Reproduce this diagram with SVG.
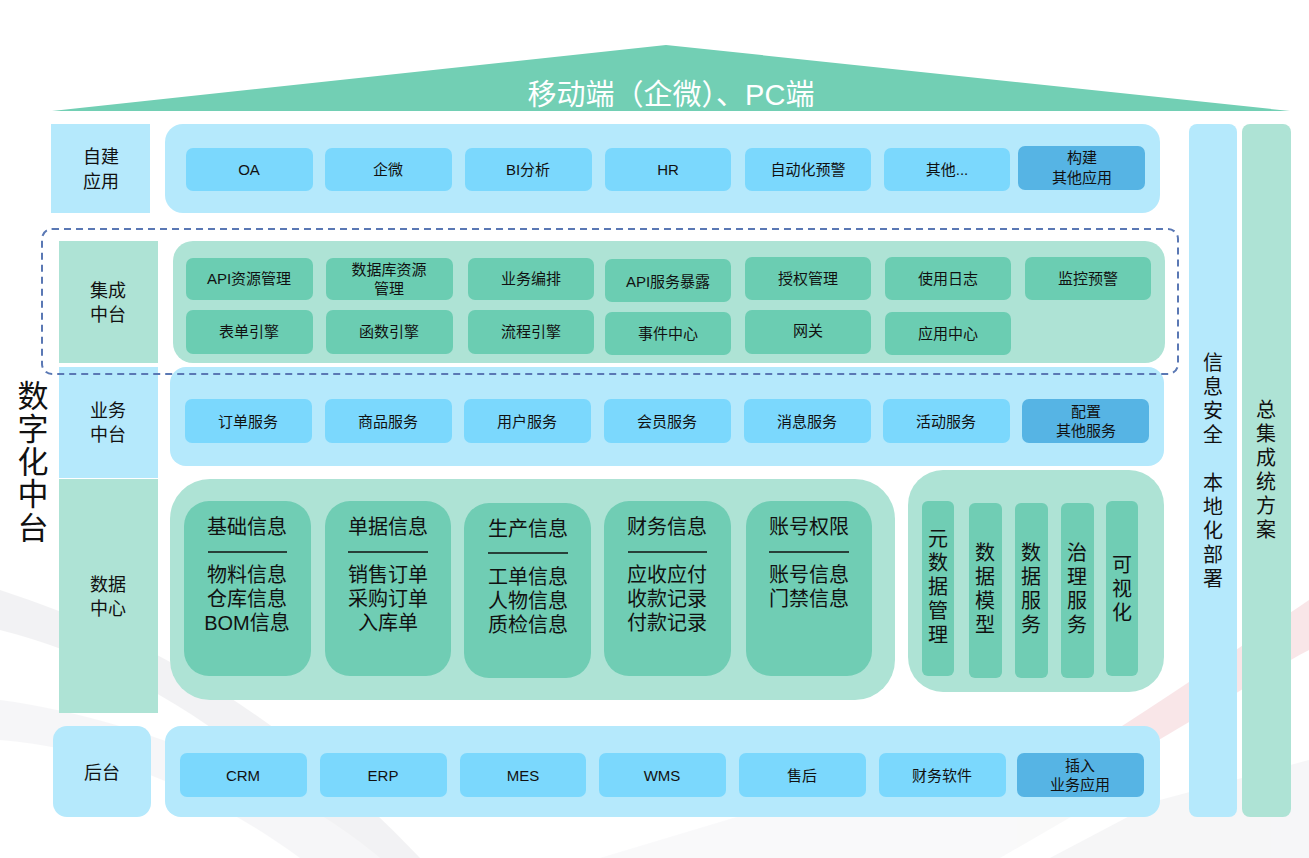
<svg xmlns="http://www.w3.org/2000/svg" width="1309" height="858" viewBox="0 0 1309 858">
<style>
text{font-family:"Liberation Sans","Noto Sans CJK SC",sans-serif;fill:#111;text-anchor:middle}
.lb{fill:#B5E9FC}
.lg{fill:#AEE3D5}
.it{fill:#7BD8FD}
.dk{fill:#56B4E4}
.tg{fill:#6BCDB2}
.cd{fill:#70CDB4}
.s15{font-size:15px}
.s18{font-size:18px}
.s20{font-size:20px}
.big{font-size:31px}
</style>
<rect width="1309" height="858" fill="#fff"/>
<g id="background" opacity="0.35">
<path d="M0 590 C120 630 260 690 420 858 L360 858 C240 730 120 660 0 630 Z" fill="#dcdce0"/>
<path d="M0 700 C150 720 300 790 380 858 L300 858 C220 800 120 750 0 740 Z" fill="#e8e8ec"/>
<path d="M1309 600 C1250 640 1180 690 1100 740 L1150 745 C1220 705 1270 670 1309 650 Z" fill="#f0b8bf"/>
<path d="M1050 858 L1160 800 L1309 760 L1309 858 Z" fill="#e6e6ea"/>
<path d="M600 858 L760 810 L1100 800 L1000 858 Z" fill="#eeeef0"/>
</g>
<g id="roof">
<polygon points="52,111 666,45 1290,111" fill="#72CFB4"/>
<text x="671" y="105" style="font-size:29px;fill:#fff">移动端（企微）、PC端</text>
</g>
<g id="side-title">
<text class="big" x="33" y="407">数</text>
<text class="big" x="33" y="440">字</text>
<text class="big" x="33" y="473">化</text>
<text class="big" x="33" y="505">中</text>
<text class="big" x="33" y="539">台</text>
</g>
<g id="row-app">
<rect class="lb" x="51" y="124" width="99" height="89"/>
<text class="s18" x="101" y="163">自建</text>
<text class="s18" x="101" y="188">应用</text>
<rect class="lb" x="165" y="124" width="995" height="89" rx="18"/>
<rect class="it" x="186" y="148" width="127" height="43" rx="7"/><text class="s15" x="249" y="175">OA</text>
<rect class="it" x="325" y="148" width="127" height="43" rx="7"/><text class="s15" x="388" y="175">企微</text>
<rect class="it" x="465" y="148" width="127" height="43" rx="7"/><text class="s15" x="528" y="175">BI分析</text>
<rect class="it" x="605" y="148" width="126" height="43" rx="7"/><text class="s15" x="668" y="175">HR</text>
<rect class="it" x="745" y="148" width="126" height="43" rx="7"/><text class="s15" x="808" y="175">自动化预警</text>
<rect class="it" x="884" y="148" width="126" height="43" rx="7"/><text class="s15" x="947" y="175">其他...</text>
<rect class="dk" x="1018" y="146" width="127" height="44" rx="7"/><text class="s15" x="1082" y="163">构建</text><text class="s15" x="1082" y="183">其他应用</text>
</g>
<g id="row-integration">
<rect class="lg" x="59" y="241" width="99" height="122"/>
<text class="s18" x="108" y="297">集成</text>
<text class="s18" x="108" y="321">中台</text>
<rect class="lg" x="173" y="241" width="992" height="122" rx="20"/>
<rect class="tg" x="186" y="258" width="127" height="42" rx="7"/><text class="s15" x="249" y="284">API资源管理</text>
<rect class="tg" x="326" y="258" width="127" height="42" rx="7"/><text class="s15" x="389" y="275">数据库资源</text><text class="s15" x="389" y="294">管理</text>
<rect class="tg" x="468" y="258" width="126" height="42" rx="7"/><text class="s15" x="531" y="284">业务编排</text>
<rect class="tg" x="605" y="259" width="126" height="43" rx="7"/><text class="s15" x="668" y="287">API服务暴露</text>
<rect class="tg" x="745" y="257" width="126" height="43" rx="7"/><text class="s15" x="808" y="284">授权管理</text>
<rect class="tg" x="885" y="257" width="126" height="43" rx="7"/><text class="s15" x="948" y="284">使用日志</text>
<rect class="tg" x="1025" y="257" width="126" height="43" rx="7"/><text class="s15" x="1088" y="284">监控预警</text>
<rect class="tg" x="186" y="310" width="127" height="44" rx="7"/><text class="s15" x="249" y="337">表单引擎</text>
<rect class="tg" x="326" y="310" width="127" height="44" rx="7"/><text class="s15" x="389" y="337">函数引擎</text>
<rect class="tg" x="468" y="310" width="126" height="44" rx="7"/><text class="s15" x="531" y="337">流程引擎</text>
<rect class="tg" x="605" y="312" width="126" height="43" rx="7"/><text class="s15" x="668" y="339">事件中心</text>
<rect class="tg" x="745" y="310" width="126" height="44" rx="7"/><text class="s15" x="808" y="336">网关</text>
<rect class="tg" x="885" y="312" width="126" height="43" rx="7"/><text class="s15" x="948" y="339">应用中心</text>
</g>
<g id="row-business">
<rect class="lb" x="59" y="367" width="99" height="111"/>
<text class="s18" x="108" y="417">业务</text>
<text class="s18" x="108" y="441">中台</text>
<rect class="lb" x="170" y="367" width="994" height="99" rx="16"/>
<rect class="it" x="185" y="399" width="127" height="44" rx="7"/><text class="s15" x="248" y="427">订单服务</text>
<rect class="it" x="325" y="399" width="127" height="44" rx="7"/><text class="s15" x="388" y="427">商品服务</text>
<rect class="it" x="464" y="399" width="127" height="44" rx="7"/><text class="s15" x="527" y="427">用户服务</text>
<rect class="it" x="604" y="399" width="127" height="44" rx="7"/><text class="s15" x="667" y="427">会员服务</text>
<rect class="it" x="744" y="399" width="127" height="44" rx="7"/><text class="s15" x="807" y="427">消息服务</text>
<rect class="it" x="883" y="399" width="127" height="44" rx="7"/><text class="s15" x="946" y="427">活动服务</text>
<rect class="dk" x="1022" y="399" width="127" height="44" rx="7"/><text class="s15" x="1086" y="417">配置</text><text class="s15" x="1086" y="436">其他服务</text>
</g>
<g id="dashed-frame">
<rect x="42" y="229" width="1136" height="145" rx="10" fill="none" stroke="#5A78B4" stroke-width="2" stroke-dasharray="7,5"/>
</g>
<g id="row-data">
<rect class="lg" x="59" y="479" width="99" height="234"/>
<text class="s18" x="108" y="591">数据</text>
<text class="s18" x="108" y="615">中心</text>
<rect class="lg" x="170" y="479" width="725" height="221" rx="40"/>
<g id="card-basic">
<rect class="cd" x="184" y="501" width="127" height="175" rx="25"/>
<text class="s20" x="247" y="534">基础信息</text>
<line x1="208" y1="552" x2="287" y2="552" stroke="#111" stroke-width="1.5"/>
<text class="s20" x="247" y="582">物料信息</text><text class="s20" x="247" y="606">仓库信息</text><text class="s20" x="247" y="630">BOM信息</text>
</g>
<g id="card-doc">
<rect class="cd" x="325" y="501" width="126" height="175" rx="25"/>
<text class="s20" x="388" y="534">单据信息</text>
<line x1="348" y1="552" x2="428" y2="552" stroke="#111" stroke-width="1.5"/>
<text class="s20" x="388" y="582">销售订单</text><text class="s20" x="388" y="606">采购订单</text><text class="s20" x="388" y="630">入库单</text>
</g>
<g id="card-prod">
<rect class="cd" x="464" y="503" width="127" height="175" rx="25"/>
<text class="s20" x="528" y="536">生产信息</text>
<line x1="488" y1="553" x2="568" y2="553" stroke="#111" stroke-width="1.5"/>
<text class="s20" x="528" y="584">工单信息</text><text class="s20" x="528" y="608">人物信息</text><text class="s20" x="528" y="632">质检信息</text>
</g>
<g id="card-fin">
<rect class="cd" x="604" y="501" width="127" height="175" rx="25"/>
<text class="s20" x="667" y="534">财务信息</text>
<line x1="628" y1="552" x2="707" y2="552" stroke="#111" stroke-width="1.5"/>
<text class="s20" x="667" y="582">应收应付</text><text class="s20" x="667" y="606">收款记录</text><text class="s20" x="667" y="630">付款记录</text>
</g>
<g id="card-acct">
<rect class="cd" x="746" y="501" width="126" height="175" rx="25"/>
<text class="s20" x="809" y="534">账号权限</text>
<line x1="769" y1="552" x2="849" y2="552" stroke="#111" stroke-width="1.5"/>
<text class="s20" x="809" y="582">账号信息</text><text class="s20" x="809" y="606">门禁信息</text>
</g>
<rect class="lg" x="908" y="470" width="256" height="222" rx="35"/>
<g id="col-meta">
<rect class="cd" x="922" y="501" width="32" height="175" rx="6"/>
<text class="s20" x="938" y="546">元</text><text class="s20" x="938" y="570">数</text><text class="s20" x="938" y="594">据</text><text class="s20" x="938" y="618">管</text><text class="s20" x="938" y="642">理</text>
</g>
<g id="col-model">
<rect class="cd" x="969" y="503" width="33" height="175" rx="6"/>
<text class="s20" x="985" y="560">数</text><text class="s20" x="985" y="584">据</text><text class="s20" x="985" y="608">模</text><text class="s20" x="985" y="632">型</text>
</g>
<g id="col-dserv">
<rect class="cd" x="1015" y="503" width="33" height="175" rx="6"/>
<text class="s20" x="1031" y="560">数</text><text class="s20" x="1031" y="584">据</text><text class="s20" x="1031" y="608">服</text><text class="s20" x="1031" y="632">务</text>
</g>
<g id="col-gov">
<rect class="cd" x="1061" y="503" width="33" height="175" rx="6"/>
<text class="s20" x="1077" y="560">治</text><text class="s20" x="1077" y="584">理</text><text class="s20" x="1077" y="608">服</text><text class="s20" x="1077" y="632">务</text>
</g>
<g id="col-vis">
<rect class="cd" x="1106" y="501" width="32" height="175" rx="6"/>
<text class="s20" x="1122" y="572">可</text><text class="s20" x="1122" y="596">视</text><text class="s20" x="1122" y="620">化</text>
</g>
</g>
<g id="row-backend">
<rect class="lb" x="53" y="726" width="98" height="91" rx="14"/>
<text class="s18" x="102" y="779">后台</text>
<rect class="lb" x="165" y="726" width="995" height="91" rx="16"/>
<rect class="it" x="180" y="753" width="127" height="44" rx="7"/><text class="s15" x="243" y="781">CRM</text>
<rect class="it" x="320" y="753" width="127" height="44" rx="7"/><text class="s15" x="383" y="781">ERP</text>
<rect class="it" x="460" y="753" width="126" height="44" rx="7"/><text class="s15" x="523" y="781">MES</text>
<rect class="it" x="599" y="753" width="127" height="44" rx="7"/><text class="s15" x="662" y="781">WMS</text>
<rect class="it" x="739" y="753" width="127" height="44" rx="7"/><text class="s15" x="802" y="781">售后</text>
<rect class="it" x="879" y="753" width="127" height="44" rx="7"/><text class="s15" x="942" y="781">财务软件</text>
<rect class="dk" x="1017" y="753" width="127" height="44" rx="7"/><text class="s15" x="1080" y="771">插入</text><text class="s15" x="1080" y="790">业务应用</text>
</g>
<g id="col-security">
<rect class="lb" x="1189" y="124" width="48" height="693" rx="8"/>
<text class="s20" x="1213" y="370">信</text><text class="s20" x="1213" y="394">息</text><text class="s20" x="1213" y="418">安</text><text class="s20" x="1213" y="442">全</text>
<text class="s20" x="1213" y="490">本</text><text class="s20" x="1213" y="514">地</text><text class="s20" x="1213" y="538">化</text><text class="s20" x="1213" y="562">部</text><text class="s20" x="1213" y="586">署</text>
</g>
<g id="col-integration">
<rect class="lg" x="1242" y="124" width="49" height="693" rx="8"/>
<text class="s20" x="1266" y="417">总</text><text class="s20" x="1266" y="441">集</text><text class="s20" x="1266" y="465">成</text><text class="s20" x="1266" y="489">统</text><text class="s20" x="1266" y="513">方</text><text class="s20" x="1266" y="537">案</text>
</g>
</svg>
